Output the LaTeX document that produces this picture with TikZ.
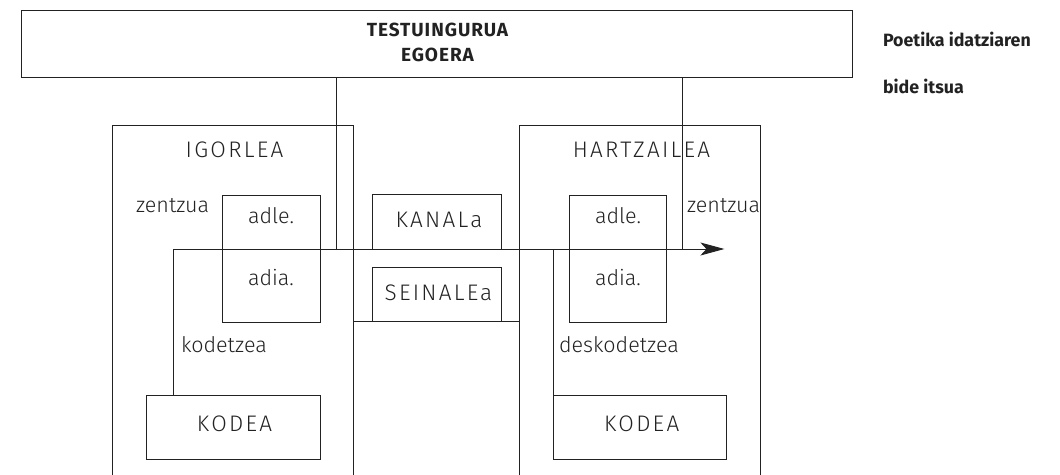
\documentclass[tikz,border=0pt]{standalone}
\usepackage{fontspec}
\setmainfont{Fira Sans}[UprightFont={* Light},BoldFont={* Bold}]
\newfontfamily\capsf{Fira Sans}[UprightFont={* Light},LetterSpace=10]
\newfontfamily\headf{Fira Sans}[UprightFont={* Bold},LetterSpace=5]
\newfontfamily\sidef{Fira Sans}[UprightFont={* Bold}]
\usetikzlibrary{arrows.meta}
\definecolor{ink}{HTML}{222222}
\begin{document}
\begin{tikzpicture}[x=1pt,y=-1pt,line width=1pt,
  box/.style={draw=ink,rectangle,inner sep=0pt,outer sep=0pt,anchor=north west},
  lbl/.style={text=ink,inner sep=0pt,outer sep=0pt,font=\fontsize{21.5}{24}\selectfont},
  captxt/.style={text=ink,inner sep=0pt,outer sep=0pt,font=\capsf\fontsize{22.5}{24}\selectfont},
  hd/.style={text=ink,inner sep=0pt,outer sep=0pt,font=\headf\fontsize{19}{20}\selectfont},
  side/.style={text=ink,inner sep=0pt,outer sep=0pt,anchor=base west,font=\sidef\fontsize{17.8}{20}\selectfont},
  conn/.style={draw=ink,line width=1pt}]
\clip (0,0) rectangle (1060,474);
% context box
\node[box,minimum width=831pt,minimum height=67pt] (ctx) at (21,10) {};
\node[hd,anchor=base] (t1) at (437.5,36.5) {TESTUINGURUA};
\node[hd,anchor=base] (t2) at (437.5,61.5) {EGOERA};
% side title
\node[side] (p1) at (883,46.7) {Poetika idatziaren};
\node[side] (p2) at (883,93.5) {bide itsua};
% big boxes
\node[box,minimum width=241pt,minimum height=360pt] (igor) at (112.5,125) {};
\node[box,minimum width=241pt,minimum height=360pt] (hartz) at (519.5,125) {};
\node[captxt,anchor=base] (igorl) at (234.5,157.5) {IGORLEA};
\node[captxt,anchor=base] (hartzl) at (641.5,157.5) {HARTZAILEA};
% adle/adia boxes
\node[box,minimum width=97.5pt,minimum height=127.5pt] (ladl) at (222.5,195) {};
\node[box,minimum width=97pt,minimum height=127.5pt] (radl) at (569.3,195) {};
\node[lbl,anchor=base] (la1) at (271,223) {adle.};
\node[lbl,anchor=base] (la2) at (271,285) {adia.};
\node[lbl,anchor=base] (ra1) at (618,223) {adle.};
\node[lbl,anchor=base] (ra2) at (618,285) {adia.};
% channel and signal
\node[box,minimum width=129pt,minimum height=54.3pt] (kanal) at (372.7,194.7) {};
\node[box,minimum width=129pt,minimum height=54pt] (sein) at (372.7,267.7) {};
\node[captxt,anchor=base] (kanall) at (439,227.7) {KANALa};
\node[captxt,anchor=base] (seinl) at (438.5,300.7) {SEINALEa};
% code boxes
\node[box,minimum width=173.6pt,minimum height=64pt] (lkode) at (146.4,395.6) {};
\node[box,minimum width=172.7pt,minimum height=64pt] (rkode) at (553.7,395.6) {};
\node[captxt,anchor=base] (lkodel) at (234.5,431.7) {KODEA};
\node[captxt,anchor=base] (rkodel) at (641.7,431.7) {KODEA};
% labels
\node[lbl,anchor=base west] (zl) at (136,212.3) {zentzua};
\node[lbl,anchor=base west] (zr) at (687,212.3) {zentzua};
\node[lbl,anchor=base west] (kod) at (181,352.7) {kodetzea};
\node[lbl,anchor=base west] (dkod) at (559,352.7) {deskodetzea};
% connectors
\coordinate (start) at (173.4,249);
\coordinate (tip) at (724.4,249);
\coordinate (c1) at (336,249);
\coordinate (c2) at (682.5,249);
\coordinate (c3) at (553.7,249);
\draw[conn] (ctx.south -| c1) -- (c1);
\draw[conn] (ctx.south -| c2) -- (c2);
\draw[conn,-{Stealth[length=24pt,width=13pt,inset=6pt]}] (lkode.north -| start) -- (start) -- (tip);
\draw[conn] (rkode.north west) -- (c3);
\draw[conn] (igor.east |- sein.south) -- (hartz.west |- sein.south);
\end{tikzpicture}
\end{document}
